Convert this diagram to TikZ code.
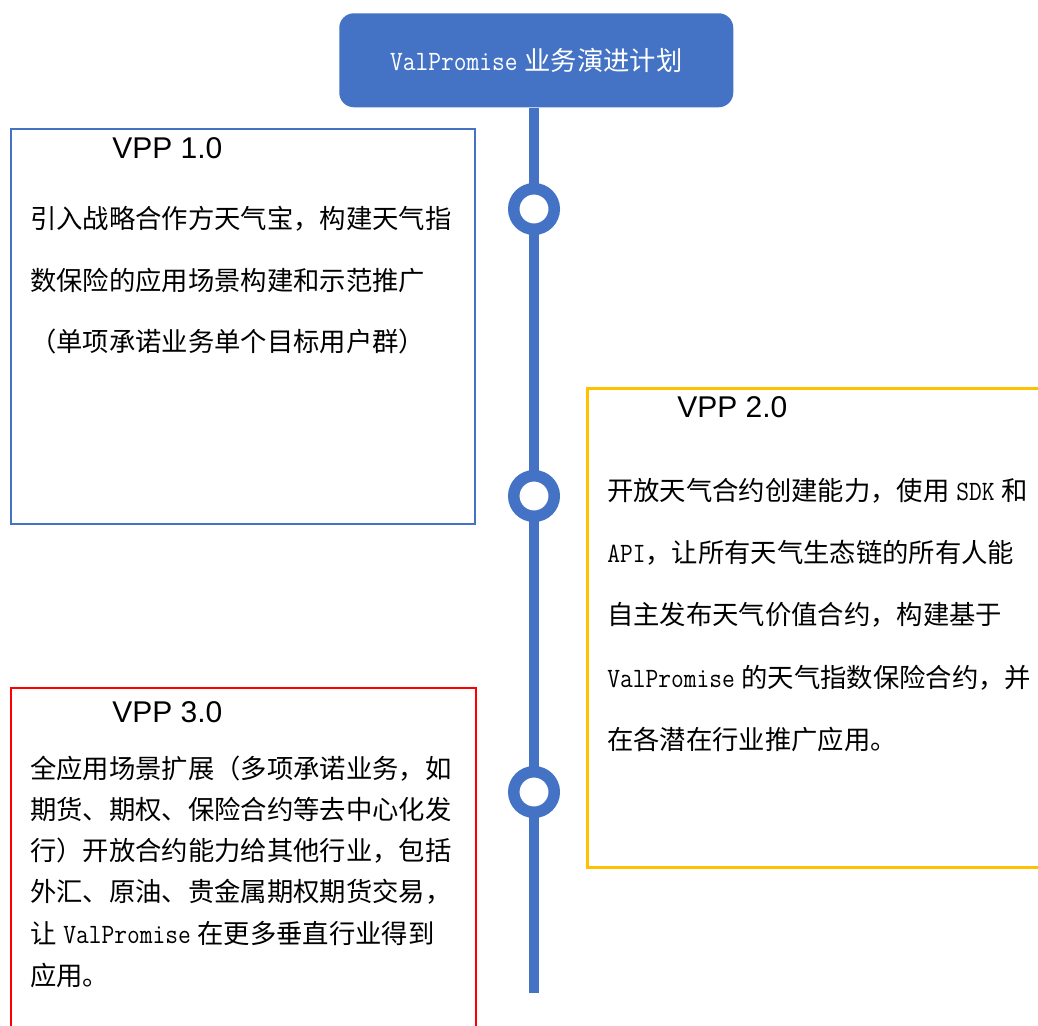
\documentclass[tikz,border=0pt]{standalone}
\usepackage{graphicx}
\usepackage{fontspec}
\setmainfont{Noto Sans CJK SC}
\newfontfamily\arialf{Liberation Sans}
\definecolor{tlblue}{HTML}{4472C4}
\definecolor{tlorange}{HTML}{FFC000}
\definecolor{tlred}{HTML}{FF0000}
\newcommand\lat[1]{\scalebox{0.885}[1]{\ttfamily\fontsize{21pt}{21pt}\selectfont #1}}
\newcommand\gp{\hspace{5pt}}
\begin{document}
\begin{tikzpicture}[x=0.75pt,y=-0.75pt,
  txt/.style={anchor=base west, inner sep=0pt, font=\fontsize{19.75pt}{19.75pt}\selectfont},
  ver/.style={anchor=base west, inner sep=0pt, font=\arialf\fontsize{22.5pt}{22.5pt}\selectfont},
  panel/.style={draw, anchor=north west, inner sep=0pt, fill=none},
  ring/.style={circle, draw=tlblue, fill=white, line width=8.6pt, minimum size=30.4pt, inner sep=0pt},
  titlebox/.style={anchor=north west, fill=tlblue, rounded corners=11pt, minimum width=295.5pt, minimum height=70.5pt, inner sep=0pt, text=white, font=\fontsize{19.75pt}{19.75pt}\selectfont},
  spine/.style={draw=tlblue, line width=7.5pt}
]
\clip (0,0) rectangle (1038,1025);
\fill[white] (0,0) rectangle (1038,1025);

% panels
\node[panel, draw=tlblue, line width=1.5pt, minimum width=348pt, minimum height=296.25pt] (box1) at (10,128) {};
\node[panel, draw=tlorange, line width=2.25pt, minimum width=352.5pt, minimum height=359.25pt] (box2) at (586,387) {};
\node[panel, draw=tlred, line width=1.5pt, minimum width=348.75pt, minimum height=300pt] (box3) at (10,687) {};

% title and spine
\node[titlebox] (title) at (339,13) {\lat{ValPromise}\gp 业务演进计划};
\coordinate (lineend) at (534,993);
\draw[spine] (title.south -| lineend) -- (lineend);
\node[ring] (c1) at (534,209) {};
\node[ring] (c2) at (534,496) {};
\node[ring] (c3) at (534,792) {};

% box 1 text
\node[ver] (v1) at (112,158) {VPP 1.0};
\node[txt] (t11) at (30,228) {引入战略合作方天气宝，构建天气指};
\node[txt] (t12) at (30,290) {数保险的应用场景构建和示范推广};
\node[txt] (t13) at (30,351) {（单项承诺业务单个目标用户群）};

% box 2 text
\node[ver] (v2) at (677,417) {VPP 2.0};
\node[txt] (t21) at (607,500) {开放天气合约创建能力，使用\gp\lat{SDK}\gp 和};
\node[txt] (t22) at (607,562) {\lat{API}，让所有天气生态链的所有人能};
\node[txt] (t23) at (607,624) {自主发布天气价值合约，构建基于};
\node[txt] (t24) at (607,687) {\lat{ValPromise}\gp 的天气指数保险合约，并};
\node[txt] (t25) at (607,749) {在各潜在行业推广应用。};

% box 3 text
\node[ver] (v3) at (112,722) {VPP 3.0};
\node[txt] (t31) at (30,778) {全应用场景扩展（多项承诺业务，如};
\node[txt] (t32) at (30,819) {期货、期权、保险合约等去中心化发};
\node[txt] (t33) at (30,860) {行）开放合约能力给其他行业，包括};
\node[txt] (t34) at (30,901) {外汇、原油、贵金属期权期货交易，};
\node[txt] (t35) at (30,943) {让\gp\lat{ValPromise}\gp 在更多垂直行业得到};
\node[txt] (t36) at (30,985) {应用。};
\end{tikzpicture}
\end{document}
